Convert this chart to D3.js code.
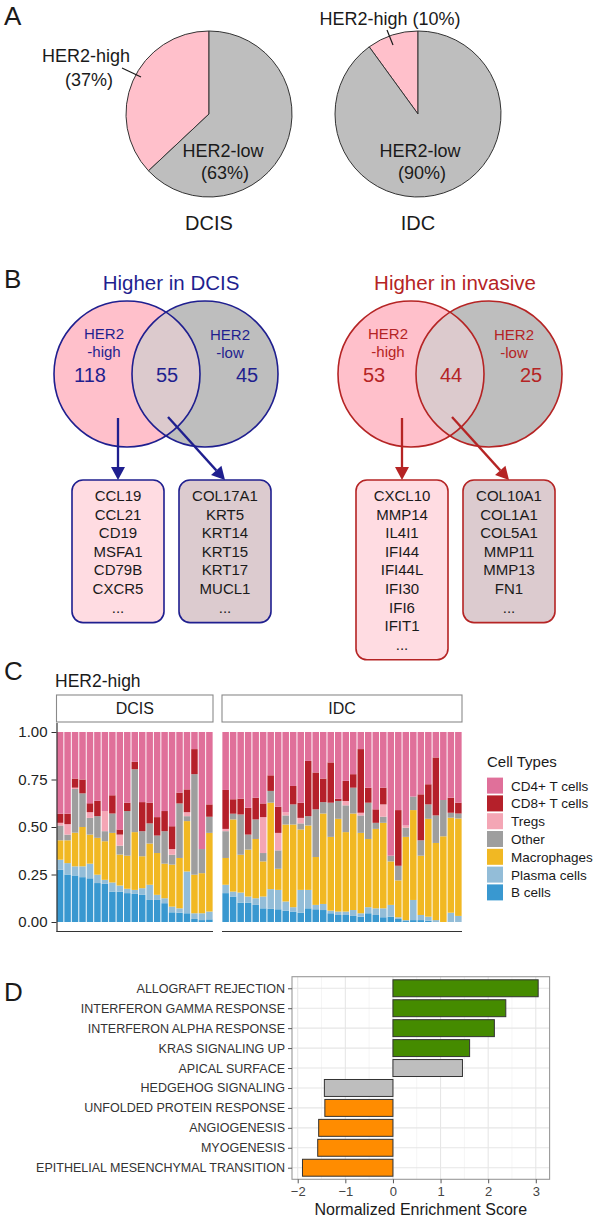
<!DOCTYPE html>
<html>
<head>
<meta charset="utf-8">
<script src="https://cdn.jsdelivr.net/npm/d3@7"></script>
<style>
  body { margin: 0; background: #fff; }
  svg { display: block; font-family: "Liberation Sans", Arial, sans-serif; }
</style>
</head>
<body>
<div id="fig"></div>
<script>
// ---- panel A: pies
const pieGroups = ["DCIS", "IDC"];
const pieHigh = [37, 10];
const pieLow = [63, 90];

// ---- panel B: venns + gene boxes
const vennTitles = ["Higher in DCIS", "Higher in invasive"];
const vennHighOnly = [118, 53];
const vennShared = [55, 44];
const vennLowOnly = [45, 25];
const genesDcisHigh = ["CCL19", "CCL21", "CD19", "MSFA1", "CD79B", "CXCR5", "..."];
const genesDcisShared = ["COL17A1", "KRT5", "KRT14", "KRT15", "KRT17", "MUCL1", "..."];
const genesInvHigh = ["CXCL10", "MMP14", "IL4I1", "IFI44", "IFI44L", "IFI30", "IFI6", "IFIT1", "..."];
const genesInvShared = ["COL10A1", "COL1A1", "COL5A1", "MMP11", "MMP13", "FN1", "..."];

// ---- panel C: cell type fractions per sample
const cellTypes = ["CD4+ T cells", "CD8+ T cells", "Tregs", "Other", "Macrophages", "Plasma cells", "B cells"];
const cellColors = ["#e0709a", "#b5202a", "#f4a6b5", "#9e9e9e", "#f1b823", "#93bdd8", "#3998d0"];

const dcisB      = [.275,.25,.245,.236,.23,.205,.201,.16,.16,.152,.148,.143,.116,.116,.099,.051,.049,.046,.016,.01,.014];
const dcisPlasma = [.053,.06,.048,.057,.077,.044,.021,.048,.032,.023,.021,.035,.08,.027,.026,.03,.023,.22,.03,.036,.041];
const dcisMacro  = [.102,.12,.177,.207,.153,.194,.203,.261,.163,.174,.304,.168,.217,.22,.182,.221,.265,.265,.203,.211,.414];
const dcisOther  = [.078,.03,.23,.177,.088,.114,.053,.102,.047,.235,.331,.132,.106,.092,.171,.052,.287,.026,.529,.127,.085];
const dcisTregs  = [.014,.055,.007,0,.03,0,.106,0,.058,0,0,0,0,0,0,.03,0,.021,0,0,0];
const dcisCD8    = [.048,.055,.048,.073,.047,.081,0,.096,.027,.044,.039,.153,.109,.097,.106,.12,.057,.12,.132,0,.065];
const dcisCD4    = [.43,.43,.245,.25,.375,.362,.416,.333,.513,.372,.157,.369,.372,.448,.416,.496,.319,.302,.09,.616,.381];

const idcB      = [.152,.134,.102,.102,.09,.072,.069,.067,.06,.055,.049,.072,.067,.063,.046,.037,.037,.032,.028,.046,.037,.025,.028,.016,.005,.01,.01,.007,0,0,0,0];
const idcPlasma = [.044,.026,.053,.032,.035,.062,.104,.102,.048,.023,.12,.097,.023,.032,.014,.018,.018,.031,.018,.032,.035,.047,.062,.009,.005,.106,.027,.021,.01,0,.049,.032];
const idcMacro  = [.141,.38,.199,.247,.312,.185,.455,.111,.405,.435,.318,.339,.252,.476,.388,.488,.418,.508,.423,.359,.418,.45,.229,.194,.438,.473,.312,.515,.406,.451,.5,.513];
const idcOther  = [.141,.03,.212,.079,.103,.044,.062,.097,.048,.106,.032,.049,.251,.06,.18,.094,.141,.136,.092,.191,.032,.032,.03,.077,.048,.071,.081,.076,.145,.191,.026,.026];
const idcTregs  = [.012,0,0,0,0,.189,0,.092,.017,0,.029,0,0,0,0,0,.023,0,.014,0,0,.065,0,0,.012,0,0,0,0,0,0,0];
const idcCD8    = [.205,.076,.083,.141,.114,.072,.082,.138,0,.097,.08,.291,.194,.124,.212,.012,.106,.071,.335,.079,.071,.088,0,.293,0,0,.242,.106,.305,0,.079,.057];
const idcCD4    = [.305,.354,.351,.399,.346,.376,.228,.393,.422,.284,.372,.152,.213,.245,.16,.351,.257,.222,.09,.293,.407,.293,.651,.411,.492,.34,.328,.275,.134,.358,.346,.372];

const yTicks = [0, 0.25, 0.5, 0.75, 1];

// ---- panel D: GSEA
const pathways = ["ALLOGRAFT REJECTION", "INTERFERON GAMMA RESPONSE", "INTERFERON ALPHA RESPONSE",
  "KRAS SIGNALING UP", "APICAL SURFACE", "HEDGEHOG SIGNALING", "UNFOLDED PROTEIN RESPONSE",
  "ANGIOGENESIS", "MYOGENESIS", "EPITHELIAL MESENCHYMAL TRANSITION"];
const nes = [3.05, 2.37, 2.13, 1.61, 1.46, -1.44, -1.43, -1.56, -1.58, -1.90];
const nesGroup = ["up", "up", "up", "up", "ns", "ns", "down", "down", "down", "down"];
const nesTicks = [-2, -1, 0, 1, 2, 3];

const W = 597, H = 1219;
const svg = d3.select("#fig").append("svg")
    .attr("width", W).attr("height", H)
    .attr("viewBox", `0 0 ${W} ${H}`);

const ink = "#1a1a1a";

// panel letters
[["A", 25], ["B", 288], ["C", 680], ["D", 1001]].forEach(([t, y]) => {
    svg.append("text").attr("x", 4).attr("y", y).attr("font-size", 26).attr("fill", ink).text(t);
});

// ================= A: pies
const pieX = d3.scalePoint().domain(pieGroups).range([209, 418]);
const pieR = 83, pieCY = 114;
const pie = d3.pie().sort(null).startAngle(0).endAngle(-2 * Math.PI);
const arc = d3.arc().innerRadius(0).outerRadius(pieR);

pieGroups.forEach((g, i) => {
    const gp = svg.append("g").attr("transform", `translate(${pieX(g)},${pieCY})`);
    gp.selectAll("path")
        .data(pie([pieHigh[i], pieLow[i]]))
        .join("path")
        .attr("d", arc)
        .attr("fill", (d, j) => j === 0 ? "#ffc0cb" : "#bebebe")
        .attr("stroke", "#333").attr("stroke-width", 1);

    const lowDx = i === 0 ? 14 : 2;
    gp.append("text").attr("x", lowDx).attr("y", 43).attr("text-anchor", "middle")
        .attr("font-size", 18).attr("fill", ink).text("HER2-low");
    gp.append("text").attr("x", lowDx + 2).attr("y", 65).attr("text-anchor", "middle")
        .attr("font-size", 18).attr("fill", ink).text(`(${pieLow[i]}%)`);

    gp.append("text").attr("x", 0).attr("y", pieR + 33).attr("text-anchor", "middle")
        .attr("font-size", 20).attr("fill", ink).text(g);
});

// HER2-high labels + leaders
svg.append("text").attr("x", 86).attr("y", 62).attr("text-anchor", "middle")
    .attr("font-size", 18).attr("fill", ink).text("HER2-high");
svg.append("text").attr("x", 89).attr("y", 86).attr("text-anchor", "middle")
    .attr("font-size", 18).attr("fill", ink).text(`(${pieHigh[0]}%)`);
svg.append("line").attr("x1", 122).attr("y1", 68).attr("x2", 141).attr("y2", 77)
    .attr("stroke", ink).attr("stroke-width", 1.2);
svg.append("text").attr("x", 390).attr("y", 25).attr("text-anchor", "middle")
    .attr("font-size", 18).attr("fill", ink).text(`HER2-high (${pieHigh[1]}%)`);
svg.append("line").attr("x1", 387).attr("y1", 30).attr("x2", 393).attr("y2", 45)
    .attr("stroke", ink).attr("stroke-width", 1.2);

// ================= B: venns
const vennCols = ["#1f1f8f", "#b52424"];
const vennMid = [166, 450];
const vennR = 73, vennCY = 374, vennOff = 39;
const defs = svg.append("defs");

function arrow(x1, y1, x2, y2, color) {
    const a = Math.atan2(y2 - y1, x2 - x1), L = 13, w = 7;
    const bx = x2 - L * Math.cos(a), by = y2 - L * Math.sin(a);
    svg.append("line").attr("x1", x1).attr("y1", y1).attr("x2", bx).attr("y2", by)
        .attr("stroke", color).attr("stroke-width", 2.3);
    svg.append("path")
        .attr("d", `M${x2},${y2}L${bx - w * Math.sin(a)},${by + w * Math.cos(a)}L${bx + w * Math.sin(a)},${by - w * Math.cos(a)}Z`)
        .attr("fill", color);
}

function geneBox(cx, genes, fill, stroke) {
    const top = 480, w = 92, lh = 18.6, first = 501;
    const bottom = first + (genes.length - 1) * lh + 10;
    svg.append("rect").attr("x", cx - w / 2).attr("y", top).attr("width", w).attr("height", bottom - top)
        .attr("rx", 11).attr("fill", fill).attr("stroke", stroke).attr("stroke-width", 1.6);
    svg.append("g").selectAll("text").data(genes).join("text")
        .attr("x", cx).attr("y", (d, i) => first + i * lh)
        .attr("text-anchor", "middle").attr("font-size", 15).attr("fill", ink)
        .text(d => d);
}

const geneSets = [[genesDcisHigh, genesDcisShared], [genesInvHigh, genesInvShared]];

vennTitles.forEach((t, i) => {
    const m = vennMid[i], col = vennCols[i];
    const xh = m - vennOff, xl = m + vennOff;
    svg.append("text").attr("x", m + 5).attr("y", 290).attr("text-anchor", "middle")
        .attr("font-size", 20.5).attr("fill", col).text(t);

    defs.append("clipPath").attr("id", "clipHigh" + i)
        .append("circle").attr("cx", xh).attr("cy", vennCY).attr("r", vennR);

    svg.append("circle").attr("cx", xh).attr("cy", vennCY).attr("r", vennR).attr("fill", "#ffc0cb");
    svg.append("circle").attr("cx", xl).attr("cy", vennCY).attr("r", vennR).attr("fill", "#bebebe");
    svg.append("circle").attr("cx", xl).attr("cy", vennCY).attr("r", vennR)
        .attr("clip-path", `url(#clipHigh${i})`).attr("fill", "#dccacd");
    [xh, xl].forEach(x => svg.append("circle").attr("cx", x).attr("cy", vennCY).attr("r", vennR)
        .attr("fill", "none").attr("stroke", col).attr("stroke-width", 1.6));

    svg.append("text").attr("x", m - 62).attr("y", 339).attr("text-anchor", "middle")
        .attr("font-size", 15).attr("fill", col).text("HER2");
    svg.append("text").attr("x", m - 62).attr("y", 357).attr("text-anchor", "middle")
        .attr("font-size", 15).attr("fill", col).text("-high");
    svg.append("text").attr("x", m + 64).attr("y", 340).attr("text-anchor", "middle")
        .attr("font-size", 15).attr("fill", col).text("HER2");
    svg.append("text").attr("x", m + 64).attr("y", 358).attr("text-anchor", "middle")
        .attr("font-size", 15).attr("fill", col).text("-low");

    svg.append("text").attr("x", m - 76).attr("y", 382).attr("text-anchor", "middle")
        .attr("font-size", 20).attr("fill", col).text(vennHighOnly[i]);
    svg.append("text").attr("x", m + 1).attr("y", 382).attr("text-anchor", "middle")
        .attr("font-size", 20).attr("fill", col).text(vennShared[i]);
    svg.append("text").attr("x", m + 81).attr("y", 382).attr("text-anchor", "middle")
        .attr("font-size", 20).attr("fill", col).text(vennLowOnly[i]);

    const b1 = m - 48, b2 = m + 59;
    arrow(b1, 418, b1, 480, col);
    arrow(m + 2, 417, b2, 480, col);
    geneBox(b1, geneSets[i][0], "#ffdce2", col);
    geneBox(b2, geneSets[i][1], "#dccbcf", col);
});

// ================= C: stacked bars
const stackKeys = ["B", "Plasma", "Macro", "Other", "Tregs", "CD8", "CD4"];
const keyColor = {
    CD4: cellColors[0], CD8: cellColors[1], Tregs: cellColors[2], Other: cellColors[3],
    Macro: cellColors[4], Plasma: cellColors[5], B: cellColors[6]
};
function rows(B, P, M, O, T, C8, C4) {
    return B.map((_, i) => ({ id: i, B: B[i], Plasma: P[i], Macro: M[i], Other: O[i], Tregs: T[i], CD8: C8[i], CD4: C4[i] }));
}
const facets = [
    { name: "DCIS", data: rows(dcisB, dcisPlasma, dcisMacro, dcisOther, dcisTregs, dcisCD8, dcisCD4), x0: 56.5, x1: 213 },
    { name: "IDC", data: rows(idcB, idcPlasma, idcMacro, idcOther, idcTregs, idcCD8, idcCD4), x0: 222, x1: 462 }
];

const yC = d3.scaleLinear().domain([-0.05, 1.05]).range([931.5, 722.5]);
const stack = d3.stack().keys(stackKeys);

svg.append("text").attr("x", 55).attr("y", 687).attr("font-size", 17.5).attr("fill", ink).text("HER2-high");

facets.forEach(f => {
    const x = d3.scaleBand().domain(f.data.map(d => d.id)).range([f.x0, f.x1])
        .paddingInner(0.13).paddingOuter(0.05);

    svg.append("rect").attr("x", f.x0).attr("y", 695).attr("width", f.x1 - f.x0).attr("height", 27)
        .attr("fill", "#fff").attr("stroke", "#8a8a8a").attr("stroke-width", 1.1);
    svg.append("text").attr("x", (f.x0 + f.x1) / 2).attr("y", 714).attr("text-anchor", "middle")
        .attr("font-size", 16).attr("fill", ink).text(f.name);

    svg.append("g").selectAll("g").data(stack(f.data)).join("g")
        .attr("fill", s => keyColor[s.key])
        .selectAll("rect").data(s => s).join("rect")
        .attr("x", d => x(d.data.id))
        .attr("width", x.bandwidth())
        .attr("y", d => yC(d[1]))
        .attr("height", d => Math.max(0, yC(d[0]) - yC(d[1])));

    svg.append("line").attr("x1", f.x0).attr("x2", f.x1).attr("y1", yC.range()[0]).attr("y2", yC.range()[0])
        .attr("stroke", "#333").attr("stroke-width", 1.2);
});

const yAxisC = svg.append("g").attr("transform", "translate(56.5,0)")
    .call(d3.axisLeft(yC).tickValues(yTicks).tickFormat(d3.format(".2f")).tickSize(5).tickPadding(4).tickSizeOuter(0));
yAxisC.select(".domain").attr("stroke", "#333").attr("stroke-width", 1.2);
yAxisC.selectAll(".tick line").attr("stroke", "#333");
yAxisC.selectAll(".tick text").attr("font-size", 15).attr("fill", "#222").attr("font-family", null);

// legend
const lg = svg.append("g").attr("transform", "translate(487,0)");
lg.append("text").attr("x", 0).attr("y", 767).attr("font-size", 15).attr("fill", ink).text("Cell Types");
const lgItems = lg.selectAll("g.item").data(cellTypes).join("g").attr("class", "item")
    .attr("transform", (d, i) => `translate(0,${785.6 + i * 17.8})`);
lgItems.append("rect").attr("x", 0).attr("y", -8).attr("width", 16).attr("height", 16)
    .attr("fill", (d, i) => cellColors[i]);
lgItems.append("text").attr("x", 24).attr("y", 5).attr("font-size", 13.5).attr("fill", ink).text(d => d);

// ================= D: GSEA bars
const xD = d3.scaleLinear().domain([-2.12, 3.29]).range([292, 549.6]);
const yD = d3.scalePoint().domain(pathways).range([976.7, 1179.3]).padding(0.58);
const barH = yD.step() * 0.85;
const groupFill = { up: "#458b00", ns: "#bebebe", down: "#ff8c00" };

const gD = svg.append("g");
// minor grid
gD.selectAll("line.minor").data(d3.range(-1.5, 3.0, 1)).join("line").attr("class", "minor")
    .attr("x1", d => xD(d)).attr("x2", d => xD(d)).attr("y1", 976.7).attr("y2", 1179.3)
    .attr("stroke", "#f2f2f2").attr("stroke-width", 0.8);
// major grid
gD.selectAll("line.vmaj").data(nesTicks).join("line").attr("class", "vmaj")
    .attr("x1", d => xD(d)).attr("x2", d => xD(d)).attr("y1", 976.7).attr("y2", 1179.3)
    .attr("stroke", "#e6e6e6").attr("stroke-width", 1.1);
gD.selectAll("line.hmaj").data(pathways).join("line").attr("class", "hmaj")
    .attr("x1", 292).attr("x2", 549.6).attr("y1", d => yD(d)).attr("y2", d => yD(d))
    .attr("stroke", "#e6e6e6").attr("stroke-width", 1.1);

gD.selectAll("rect.bar").data(pathways).join("rect").attr("class", "bar")
    .attr("x", (d, i) => xD(Math.min(0, nes[i])))
    .attr("width", (d, i) => Math.abs(xD(nes[i]) - xD(0)))
    .attr("y", d => yD(d) - barH / 2)
    .attr("height", barH)
    .attr("fill", (d, i) => groupFill[nesGroup[i]])
    .attr("stroke", "#333").attr("stroke-width", 1);

gD.append("rect").attr("x", 292).attr("y", 976.7).attr("width", 549.6 - 292).attr("height", 1179.3 - 976.7)
    .attr("fill", "none").attr("stroke", "#999").attr("stroke-width", 1.1);

const axL = svg.append("g").attr("transform", "translate(292,0)")
    .call(d3.axisLeft(yD).tickSize(4).tickPadding(3));
axL.select(".domain").remove();
axL.selectAll(".tick line").attr("stroke", "#555");
axL.selectAll(".tick text").attr("font-size", 12.5).attr("fill", "#333").attr("font-family", null);

const axB = svg.append("g").attr("transform", "translate(0,1179.3)")
    .call(d3.axisBottom(xD).tickValues(nesTicks).tickFormat(d => d < 0 ? "\u2212" + Math.abs(d) : d).tickSize(4).tickPadding(3));
axB.select(".domain").remove();
axB.selectAll(".tick line").attr("stroke", "#555");
axB.selectAll(".tick text").attr("font-size", 13).attr("fill", "#444").attr("font-family", null);

svg.append("text").attr("x", (292 + 549.6) / 2).attr("y", 1215).attr("text-anchor", "middle")
    .attr("font-size", 16).attr("fill", ink).text("Normalized Enrichment Score");
</script>
</body>
</html>
